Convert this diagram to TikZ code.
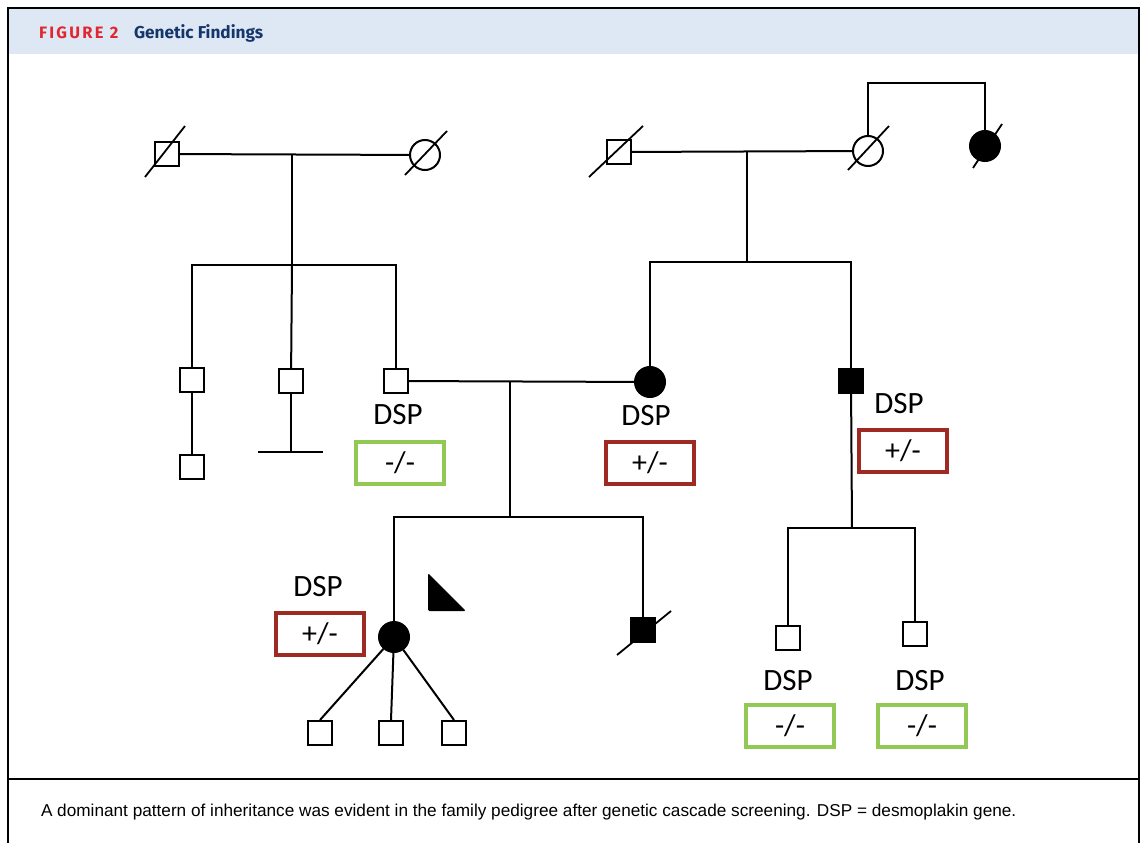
\documentclass[tikz,border=0pt]{standalone}
\usepackage{fontspec}
\usepackage{xcolor}
\setmainfont{Carlito}
\newfontfamily\headfont{Fira Sans}
\newfontfamily\capfont{Liberation Sans}
\definecolor{bandblue}{HTML}{DDE8F4}
\definecolor{figred}{HTML}{E2262F}
\definecolor{titlenavy}{HTML}{15366B}
\definecolor{carrierred}{HTML}{9E2A23}
\definecolor{normalgreen}{HTML}{92C954}

\begin{document}
\begin{tikzpicture}[x=1pt,y=-1pt,line width=2pt,
  male/.style={draw,minimum size=24pt,inner sep=0pt},
  female/.style={draw,circle,minimum size=30pt,inner sep=0pt},
  affected/.style={fill=black},
  dsp/.style={font=\fontsize{31}{31}\selectfont,inner sep=0pt},
  carrier/.style={draw=carrierred,line width=4pt,minimum width=88pt,minimum height=42pt,inner sep=0pt,font=\fontsize{30}{30}\selectfont},
  noncarrier/.style={carrier,draw=normalgreen}]
  \useasboundingbox (0,0) rectangle (1144,843);

  % frame and header
  \fill[bandblue] (8,8) rectangle (1139,54);
  \draw[line width=1.5pt] (8,843) -- (8,8) -- (1139,8) -- (1139,843);
  \draw[line width=1.5pt] (8,779) -- (1139,779);
  \node[anchor=base west,inner sep=0pt] (fig) at (38,39) {\headfont\bfseries\addfontfeature{LetterSpace=14}\fontsize{16.5}{18}\selectfont\color{figred}FIGURE 2};
  \node[anchor=base west,inner sep=0pt] (title) at (133,39) {\headfont\bfseries\fontsize{17.2}{18}\selectfont\color{titlenavy}Genetic Findings};
  \node[anchor=base west,inner sep=0pt] (cap) at (40,816) {\capfont\fontsize{17.2}{20}\selectfont A dominant pattern of inheritance was evident in the family pedigree after genetic cascade screening. DSP = desmoplakin gene.};

  % generation I
  \node[male] (I1) at (167,154) {};
  \node[female] (I2) at (425,155) {};
  \node[male] (I3) at (619,152) {};
  \node[female] (I4) at (868,151) {};
  \node[female,affected] (I5) at (985,146) {};
  \draw[line width=1.8pt] (145,177) -- (185,126) ;
  \draw[line width=1.8pt] (405,175) -- (447,131) ;
  \draw[line width=1.8pt] (589,177) -- (643,126) ;
  \draw[line width=1.8pt] (848,170) -- (889,126) ;
  \draw[line width=1.8pt] (973,168) -- (1002,124) ;

  \coordinate (m1) at (292,154) ;
  \coordinate (s1) at (292,265) ;
  \coordinate (m2) at (747,152) ;
  \coordinate (s2) at (747,262) ;
  \coordinate (sis) at (927,83) ;
  \draw (I1) -- (I2) ;
  \draw (I3) -- (I4) ;
  \draw (I4.north) |- (sis) -| (I5.north) ;
  \draw (m1) -- (s1) ;
  \draw (m2) -- (s2) ;

  % generation II
  \node[male] (a1) at (192,380) {};
  \node[male] (a2) at (291,381) {};
  \node[male] (a3) at (396,381) {};
  \node[female,affected] (a4) at (650,382) {};
  \node[male,affected] (a5) at (851,381) {};
  \node[male] (b1) at (192,467) {};
  \coordinate (nb) at (291,452) ;
  \draw (a1.north) |- (s1) -| (a3.north) ;
  \draw (s1) -- (a2) ;
  \draw (a1) -- (b1) ;
  \draw (a2) -- (nb) ;
  \draw ([xshift=-33pt]nb) -- ([xshift=32pt]nb) ;
  \draw (a4.north) |- (s2) -| (a5.north) ;

  \node[dsp] (la3) at (398,415) {DSP};
  \node[noncarrier] (ga3) at (400,463) {-/-};
  \node[dsp] (la4) at (646,416) {DSP};
  \node[carrier] (ga4) at (650,463) {+/-};
  \node[dsp] (la5) at (899,404) {DSP};
  \node[carrier] (ga5) at (903,451) {+/-};

  \coordinate (m3) at (510,381) ;
  \coordinate (s3) at (510,517) ;
  \coordinate (s4) at (852,528) ;
  \draw (a3) -- (a4) ;
  \draw (m3) -- (s3) ;

  % generation III
  \node[female,affected] (p) at (394,637) {};
  \node[male,affected] (c) at (643,630) {};
  \draw[line width=1.8pt] (617,655) -- (671,611) ;
  \node[male] (e1) at (788,638) {};
  \node[male] (e2) at (915,634) {};
  \draw (p.north) |- (s3) -| (c.north) ;
  \draw (a5) -- (s4) ;
  \draw (e1.north) |- (s4) -| (e2.north) ;
  \fill[rounded corners=1.5pt] (428,573) -- (428,611) -- (466,611) -- cycle ;

  \node[dsp] (lp) at (318,587) {DSP};
  \node[carrier] (gp) at (320,634) {+/-};
  \node[dsp] (le1) at (788,681) {DSP};
  \node[noncarrier] (ge1) at (790,726) {-/-};
  \node[dsp] (le2) at (920,681) {DSP};
  \node[noncarrier] (ge2) at (922,726) {-/-};

  % generation IV
  \node[male] (d1) at (320,733) {};
  \node[male] (d2) at (391,733) {};
  \node[male] (d3) at (454,733) {};
  \draw (p) -- (d1.north) ;
  \draw (p) -- (d2.north) ;
  \draw (p) -- (d3.north) ;
\end{tikzpicture}
\end{document}
